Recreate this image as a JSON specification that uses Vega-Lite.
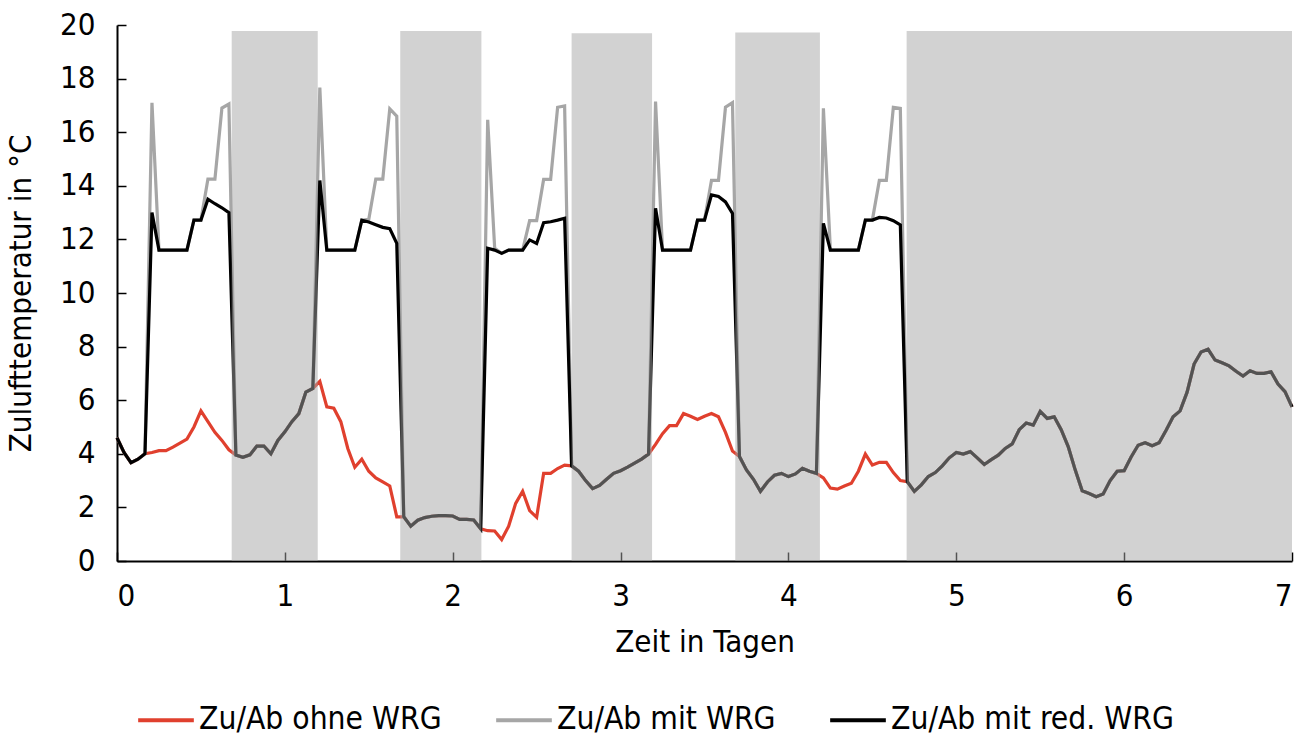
{
  "$schema": "https://vega.github.io/schema/vega-lite/v6.json",
  "width": 1175,
  "height": 536,
  "autosize": {"type": "none"},
  "padding": {"left": 117, "top": 25, "right": 18, "bottom": 181},
  "background": "white",
  "config": {
    "view": {"stroke": null},
    "font": "DejaVu Sans Condensed, Roboto, sans-serif",
    "axis": {
      "grid": false,
      "domainColor": "#000000",
      "domainWidth": 2,
      "tickColor": "#000000",
      "tickWidth": 1.5,
      "tickSize": -9,
      "labelFont": "DejaVu Sans Condensed, Roboto, sans-serif",
      "labelFontSize": 31,
      "labelColor": "#000000",
      "titleFont": "DejaVu Sans Condensed, Roboto, sans-serif",
      "titleFontSize": 31,
      "titleFontWeight": "normal",
      "titleColor": "#000000"
    },
    "legend": {
      "labelFont": "DejaVu Sans Condensed, Roboto, sans-serif",
      "labelFontSize": 31.5,
      "labelColor": "#000000",
      "labelLimit": 500
    }
  },
  "data": {
    "values": [
      {"h": 0, "ohne": 4.6, "mit": 4.6, "red": 4.6},
      {"h": 1, "ohne": 4.05, "mit": 4.05, "red": 4.05},
      {"h": 2, "ohne": 3.67, "mit": 3.67, "red": 3.67},
      {"h": 3, "ohne": 3.8, "mit": 3.8, "red": 3.8},
      {"h": 4, "ohne": 4.0, "mit": 4.0, "red": 4.0},
      {"h": 5, "ohne": 4.05, "mit": 17.1, "red": 13.0},
      {"h": 6, "ohne": 4.12, "mit": 11.6, "red": 11.6},
      {"h": 7, "ohne": 4.12, "mit": 11.6, "red": 11.6},
      {"h": 8, "ohne": 4.25, "mit": 11.6, "red": 11.6},
      {"h": 9, "ohne": 4.4, "mit": 11.6, "red": 11.6},
      {"h": 10, "ohne": 4.55, "mit": 11.6, "red": 11.6},
      {"h": 11, "ohne": 5.0, "mit": 12.72, "red": 12.72},
      {"h": 12, "ohne": 5.6, "mit": 12.72, "red": 12.72},
      {"h": 13, "ohne": 5.2, "mit": 14.25, "red": 13.5},
      {"h": 14, "ohne": 4.8, "mit": 14.25, "red": 13.33},
      {"h": 15, "ohne": 4.5, "mit": 16.9, "red": 13.18},
      {"h": 16, "ohne": 4.15, "mit": 17.05, "red": 13.0},
      {"h": 17, "ohne": 3.95, "mit": 3.95, "red": 3.95},
      {"h": 18, "ohne": 3.87, "mit": 3.87, "red": 3.87},
      {"h": 19, "ohne": 3.96, "mit": 3.96, "red": 3.96},
      {"h": 20, "ohne": 4.29, "mit": 4.29, "red": 4.29},
      {"h": 21, "ohne": 4.29, "mit": 4.29, "red": 4.29},
      {"h": 22, "ohne": 4.0, "mit": 4.0, "red": 4.0},
      {"h": 23, "ohne": 4.5, "mit": 4.5, "red": 4.5},
      {"h": 24, "ohne": 4.82, "mit": 4.82, "red": 4.82},
      {"h": 25, "ohne": 5.2, "mit": 5.2, "red": 5.2},
      {"h": 26, "ohne": 5.5, "mit": 5.5, "red": 5.5},
      {"h": 27, "ohne": 6.3, "mit": 6.3, "red": 6.3},
      {"h": 28, "ohne": 6.44, "mit": 6.44, "red": 6.44},
      {"h": 29, "ohne": 6.7, "mit": 17.67, "red": 14.2},
      {"h": 30, "ohne": 5.75, "mit": 11.6, "red": 11.6},
      {"h": 31, "ohne": 5.7, "mit": 11.6, "red": 11.6},
      {"h": 32, "ohne": 5.2, "mit": 11.6, "red": 11.6},
      {"h": 33, "ohne": 4.2, "mit": 11.6, "red": 11.6},
      {"h": 34, "ohne": 3.5, "mit": 11.6, "red": 11.6},
      {"h": 35, "ohne": 3.8, "mit": 12.72, "red": 12.72},
      {"h": 36, "ohne": 3.35, "mit": 12.75, "red": 12.65},
      {"h": 37, "ohne": 3.1, "mit": 14.25, "red": 12.55},
      {"h": 38, "ohne": 2.95, "mit": 14.25, "red": 12.45},
      {"h": 39, "ohne": 2.8, "mit": 16.87, "red": 12.4},
      {"h": 40, "ohne": 1.65, "mit": 16.6, "red": 11.85},
      {"h": 41, "ohne": 1.65, "mit": 1.65, "red": 1.65},
      {"h": 42, "ohne": 1.3, "mit": 1.3, "red": 1.3},
      {"h": 43, "ohne": 1.52, "mit": 1.52, "red": 1.52},
      {"h": 44, "ohne": 1.62, "mit": 1.62, "red": 1.62},
      {"h": 45, "ohne": 1.67, "mit": 1.67, "red": 1.67},
      {"h": 46, "ohne": 1.69, "mit": 1.69, "red": 1.69},
      {"h": 47, "ohne": 1.69, "mit": 1.69, "red": 1.69},
      {"h": 48, "ohne": 1.68, "mit": 1.68, "red": 1.68},
      {"h": 49, "ohne": 1.55, "mit": 1.55, "red": 1.55},
      {"h": 50, "ohne": 1.55, "mit": 1.55, "red": 1.55},
      {"h": 51, "ohne": 1.53, "mit": 1.53, "red": 1.53},
      {"h": 52, "ohne": 1.2, "mit": 1.2, "red": 1.2},
      {"h": 53, "ohne": 1.13, "mit": 16.46, "red": 11.67},
      {"h": 54, "ohne": 1.12, "mit": 11.67, "red": 11.6},
      {"h": 55, "ohne": 0.8, "mit": 11.48, "red": 11.48},
      {"h": 56, "ohne": 1.3, "mit": 11.6, "red": 11.6},
      {"h": 57, "ohne": 2.15, "mit": 11.6, "red": 11.6},
      {"h": 58, "ohne": 2.6, "mit": 11.6, "red": 11.6},
      {"h": 59, "ohne": 1.88, "mit": 12.7, "red": 11.98},
      {"h": 60, "ohne": 1.63, "mit": 12.7, "red": 11.85},
      {"h": 61, "ohne": 3.27, "mit": 14.24, "red": 12.62},
      {"h": 62, "ohne": 3.27, "mit": 14.24, "red": 12.66},
      {"h": 63, "ohne": 3.45, "mit": 16.93, "red": 12.72},
      {"h": 64, "ohne": 3.58, "mit": 16.98, "red": 12.79},
      {"h": 65, "ohne": 3.55, "mit": 3.55, "red": 3.55},
      {"h": 66, "ohne": 3.35, "mit": 3.35, "red": 3.35},
      {"h": 67, "ohne": 3.0, "mit": 3.0, "red": 3.0},
      {"h": 68, "ohne": 2.7, "mit": 2.7, "red": 2.7},
      {"h": 69, "ohne": 2.82, "mit": 2.82, "red": 2.82},
      {"h": 70, "ohne": 3.05, "mit": 3.05, "red": 3.05},
      {"h": 71, "ohne": 3.27, "mit": 3.27, "red": 3.27},
      {"h": 72, "ohne": 3.37, "mit": 3.37, "red": 3.37},
      {"h": 73, "ohne": 3.5, "mit": 3.5, "red": 3.5},
      {"h": 74, "ohne": 3.65, "mit": 3.65, "red": 3.65},
      {"h": 75, "ohne": 3.8, "mit": 3.8, "red": 3.8},
      {"h": 76, "ohne": 3.99, "mit": 3.99, "red": 3.99},
      {"h": 77, "ohne": 4.35, "mit": 17.14, "red": 13.16},
      {"h": 78, "ohne": 4.75, "mit": 11.6, "red": 11.6},
      {"h": 79, "ohne": 5.05, "mit": 11.6, "red": 11.6},
      {"h": 80, "ohne": 5.05, "mit": 11.6, "red": 11.6},
      {"h": 81, "ohne": 5.5, "mit": 11.6, "red": 11.6},
      {"h": 82, "ohne": 5.4, "mit": 11.6, "red": 11.6},
      {"h": 83, "ohne": 5.28, "mit": 12.72, "red": 12.72},
      {"h": 84, "ohne": 5.4, "mit": 12.72, "red": 12.72},
      {"h": 85, "ohne": 5.5, "mit": 14.2, "red": 13.66},
      {"h": 86, "ohne": 5.38, "mit": 14.2, "red": 13.6},
      {"h": 87, "ohne": 4.8, "mit": 16.93, "red": 13.4},
      {"h": 88, "ohne": 4.1, "mit": 17.1, "red": 12.97},
      {"h": 89, "ohne": 3.9, "mit": 3.9, "red": 3.9},
      {"h": 90, "ohne": 3.4, "mit": 3.4, "red": 3.4},
      {"h": 91, "ohne": 3.05, "mit": 3.05, "red": 3.05},
      {"h": 92, "ohne": 2.6, "mit": 2.6, "red": 2.6},
      {"h": 93, "ohne": 2.95, "mit": 2.95, "red": 2.95},
      {"h": 94, "ohne": 3.2, "mit": 3.2, "red": 3.2},
      {"h": 95, "ohne": 3.27, "mit": 3.27, "red": 3.27},
      {"h": 96, "ohne": 3.15, "mit": 3.15, "red": 3.15},
      {"h": 97, "ohne": 3.25, "mit": 3.25, "red": 3.25},
      {"h": 98, "ohne": 3.46, "mit": 3.46, "red": 3.46},
      {"h": 99, "ohne": 3.35, "mit": 3.35, "red": 3.35},
      {"h": 100, "ohne": 3.27, "mit": 3.27, "red": 3.27},
      {"h": 101, "ohne": 3.1, "mit": 16.89, "red": 12.6},
      {"h": 102, "ohne": 2.72, "mit": 11.6, "red": 11.6},
      {"h": 103, "ohne": 2.68, "mit": 11.6, "red": 11.6},
      {"h": 104, "ohne": 2.8, "mit": 11.6, "red": 11.6},
      {"h": 105, "ohne": 2.9, "mit": 11.6, "red": 11.6},
      {"h": 106, "ohne": 3.35, "mit": 11.6, "red": 11.6},
      {"h": 107, "ohne": 3.99, "mit": 12.72, "red": 12.72},
      {"h": 108, "ohne": 3.58, "mit": 12.72, "red": 12.72},
      {"h": 109, "ohne": 3.68, "mit": 14.2, "red": 12.82},
      {"h": 110, "ohne": 3.68, "mit": 14.2, "red": 12.8},
      {"h": 111, "ohne": 3.3, "mit": 16.93, "red": 12.7},
      {"h": 112, "ohne": 3.0, "mit": 16.89, "red": 12.54},
      {"h": 113, "ohne": 2.96, "mit": 2.96, "red": 2.96},
      {"h": 114, "ohne": 2.6, "mit": 2.6, "red": 2.6},
      {"h": 115, "ohne": 2.84, "mit": 2.84, "red": 2.84},
      {"h": 116, "ohne": 3.15, "mit": 3.15, "red": 3.15},
      {"h": 117, "ohne": 3.3, "mit": 3.3, "red": 3.3},
      {"h": 118, "ohne": 3.55, "mit": 3.55, "red": 3.55},
      {"h": 119, "ohne": 3.85, "mit": 3.85, "red": 3.85},
      {"h": 120, "ohne": 4.05, "mit": 4.05, "red": 4.05},
      {"h": 121, "ohne": 3.99, "mit": 3.99, "red": 3.99},
      {"h": 122, "ohne": 4.08, "mit": 4.08, "red": 4.08},
      {"h": 123, "ohne": 3.85, "mit": 3.85, "red": 3.85},
      {"h": 124, "ohne": 3.6, "mit": 3.6, "red": 3.6},
      {"h": 125, "ohne": 3.78, "mit": 3.78, "red": 3.78},
      {"h": 126, "ohne": 3.95, "mit": 3.95, "red": 3.95},
      {"h": 127, "ohne": 4.2, "mit": 4.2, "red": 4.2},
      {"h": 128, "ohne": 4.37, "mit": 4.37, "red": 4.37},
      {"h": 129, "ohne": 4.9, "mit": 4.9, "red": 4.9},
      {"h": 130, "ohne": 5.15, "mit": 5.15, "red": 5.15},
      {"h": 131, "ohne": 5.07, "mit": 5.07, "red": 5.07},
      {"h": 132, "ohne": 5.58, "mit": 5.58, "red": 5.58},
      {"h": 133, "ohne": 5.32, "mit": 5.32, "red": 5.32},
      {"h": 134, "ohne": 5.38, "mit": 5.38, "red": 5.38},
      {"h": 135, "ohne": 4.9, "mit": 4.9, "red": 4.9},
      {"h": 136, "ohne": 4.27, "mit": 4.27, "red": 4.27},
      {"h": 137, "ohne": 3.4, "mit": 3.4, "red": 3.4},
      {"h": 138, "ohne": 2.62, "mit": 2.62, "red": 2.62},
      {"h": 139, "ohne": 2.52, "mit": 2.52, "red": 2.52},
      {"h": 140, "ohne": 2.4, "mit": 2.4, "red": 2.4},
      {"h": 141, "ohne": 2.5, "mit": 2.5, "red": 2.5},
      {"h": 142, "ohne": 3.0, "mit": 3.0, "red": 3.0},
      {"h": 143, "ohne": 3.35, "mit": 3.35, "red": 3.35},
      {"h": 144, "ohne": 3.37, "mit": 3.37, "red": 3.37},
      {"h": 145, "ohne": 3.88, "mit": 3.88, "red": 3.88},
      {"h": 146, "ohne": 4.32, "mit": 4.32, "red": 4.32},
      {"h": 147, "ohne": 4.41, "mit": 4.41, "red": 4.41},
      {"h": 148, "ohne": 4.3, "mit": 4.3, "red": 4.3},
      {"h": 149, "ohne": 4.41, "mit": 4.41, "red": 4.41},
      {"h": 150, "ohne": 4.88, "mit": 4.88, "red": 4.88},
      {"h": 151, "ohne": 5.38, "mit": 5.38, "red": 5.38},
      {"h": 152, "ohne": 5.6, "mit": 5.6, "red": 5.6},
      {"h": 153, "ohne": 6.3, "mit": 6.3, "red": 6.3},
      {"h": 154, "ohne": 7.35, "mit": 7.35, "red": 7.35},
      {"h": 155, "ohne": 7.8, "mit": 7.8, "red": 7.8},
      {"h": 156, "ohne": 7.9, "mit": 7.9, "red": 7.9},
      {"h": 157, "ohne": 7.5, "mit": 7.5, "red": 7.5},
      {"h": 158, "ohne": 7.4, "mit": 7.4, "red": 7.4},
      {"h": 159, "ohne": 7.28, "mit": 7.28, "red": 7.28},
      {"h": 160, "ohne": 7.08, "mit": 7.08, "red": 7.08},
      {"h": 161, "ohne": 6.9, "mit": 6.9, "red": 6.9},
      {"h": 162, "ohne": 7.1, "mit": 7.1, "red": 7.1},
      {"h": 163, "ohne": 7.0, "mit": 7.0, "red": 7.0},
      {"h": 164, "ohne": 7.0, "mit": 7.0, "red": 7.0},
      {"h": 165, "ohne": 7.06, "mit": 7.06, "red": 7.06},
      {"h": 166, "ohne": 6.6, "mit": 6.6, "red": 6.6},
      {"h": 167, "ohne": 6.32, "mit": 6.32, "red": 6.32},
      {"h": 168, "ohne": 5.75, "mit": 5.75, "red": 5.75}
    ]
  },
  "encoding": {
    "x": {
      "field": "h",
      "type": "quantitative",
      "scale": {"domain": [0, 168], "nice": false, "zero": false},
      "axis": {
        "values": [0, 24, 48, 72, 96, 120, 144, 168],
        "labelExpr": "datum.value / 24",
        "title": "Zeit in Tagen",
        "labelPadding": 29,
        "titlePadding": 16
      }
    }
  },
  "layer": [
    {
      "mark": {"type": "line", "strokeWidth": 3.2, "interpolate": "linear"},
      "encoding": {
        "y": {
          "field": "ohne",
          "type": "quantitative",
          "scale": {"domain": [0, 20], "nice": false},
          "axis": {
            "values": [0, 2, 4, 6, 8, 10, 12, 14, 16, 18, 20],
            "title": "Zulufttemperatur in °C",
            "labelPadding": 31,
            "titlePadding": 22
          }
        },
        "color": {
          "datum": "Zu/Ab ohne WRG",
          "type": "nominal",
          "scale": {
            "domain": ["Zu/Ab ohne WRG", "Zu/Ab mit WRG", "Zu/Ab mit red. WRG"],
            "range": ["#e0402e", "#a6a6a6", "#000000"]
          },
          "legend": {
            "title": null,
            "orient": "none",
            "direction": "horizontal",
            "legendX": 19,
            "legendY": 665,
            "symbolType": "stroke",
            "symbolSize": 3100,
            "symbolStrokeWidth": 4,
            "labelOffset": 3,
            "columnPadding": 46
          }
        }
      }
    },
    {
      "mark": {"type": "line", "strokeWidth": 3.2, "interpolate": "linear"},
      "encoding": {
        "y": {"field": "mit", "type": "quantitative"},
        "color": {"datum": "Zu/Ab mit WRG", "type": "nominal"}
      }
    },
    {
      "mark": {"type": "line", "strokeWidth": 3.2, "interpolate": "linear"},
      "encoding": {
        "y": {"field": "red", "type": "quantitative"},
        "color": {"datum": "Zu/Ab mit red. WRG", "type": "nominal"}
      }
    },
    {
      "data": {
        "values": [
          {"s": 16.4, "e": 28.7, "top": 19.78},
          {"s": 40.5, "e": 52.1, "top": 19.78},
          {"s": 65.0, "e": 76.5, "top": 19.69},
          {"s": 88.4, "e": 100.5, "top": 19.72},
          {"s": 112.9, "e": 168, "top": 19.78}
        ]
      },
      "mark": {"type": "rect", "color": "#a6a6a6", "opacity": 0.5},
      "encoding": {
        "x": {"field": "s", "type": "quantitative"},
        "x2": {"field": "e"},
        "y": {"field": "top", "type": "quantitative"},
        "y2": {"datum": 0}
      }
    }
  ]
}
